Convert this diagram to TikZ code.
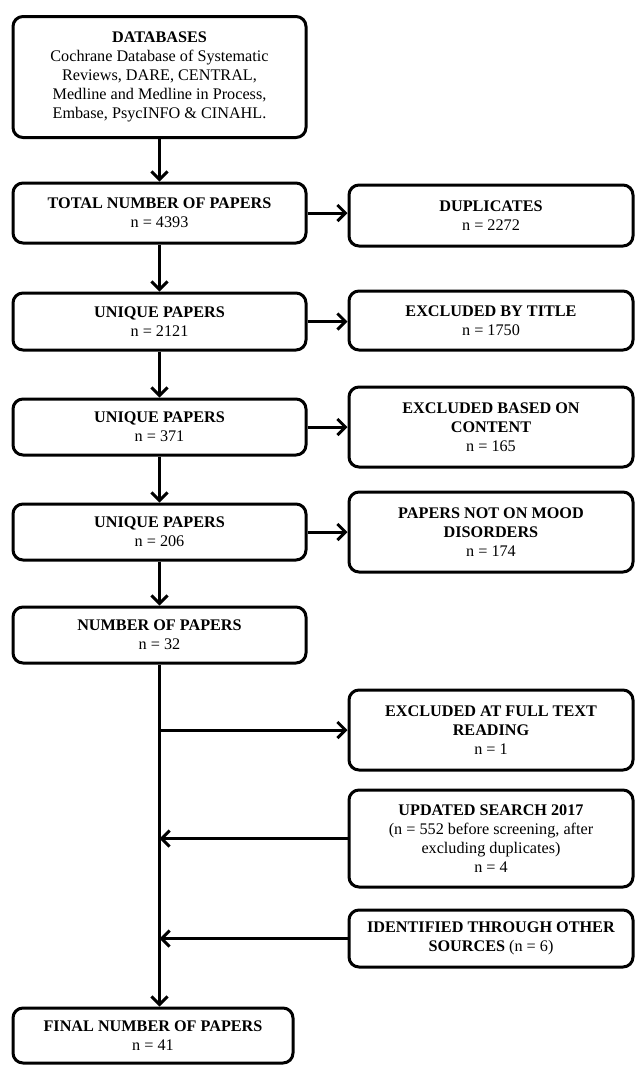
\documentclass[tikz,border=0pt]{standalone}
\usepackage{fontspec}
\setmainfont{Liberation Serif}
\usetikzlibrary{arrows.meta}

\begin{document}
\begin{tikzpicture}[x = 1pt, y = -1pt, line width = 3pt,
  every node/.style = {font = \fontsize{16.2}{19}\selectfont, align = center, inner sep = 0pt},
  lbox/.style = {draw, rounded corners = 10pt, minimum width = 293pt},
  rbox/.style = {draw, rounded corners = 10pt, minimum width = 284pt},
  arr/.style = {-{Straight Barb[length = 8pt, width = 16pt]}}]

  \useasboundingbox (0, 0) rectangle (635, 1066);

  \node (db) at (159.5, 77) [lbox, minimum height = 121pt] { \textbf{DATABASES}\\ Cochrane Database of Systematic\\ Reviews, DARE, CENTRAL,\\ Medline and Medline in Process,\\ Embase, PsycINFO \& CINAHL. };

  \node (total) at (159.5, 213) [lbox, minimum height = 60pt] { \textbf{TOTAL NUMBER OF PAPERS}\\ n = 4393 };
  \node (uniqA) at (159.5, 321.5) [lbox, minimum height = 57pt] { \textbf{UNIQUE PAPERS}\\ n = 2121 };
  \node (uniqB) at (159.5, 427) [lbox, minimum height = 56pt] { \textbf{UNIQUE PAPERS}\\ n = 371 };
  \node (uniqC) at (159.5, 532) [lbox, minimum height = 56pt] { \textbf{UNIQUE PAPERS}\\ n = 206 };
  \node (num) at (159.5, 635) [lbox, minimum height = 56pt] { \textbf{NUMBER OF PAPERS}\\ n = 32 };
  \node (final) at (153, 1035.5) [lbox, minimum width = 280pt, minimum height = 55pt] { \textbf{FINAL NUMBER OF PAPERS}\\ n = 41 };

  \node (dup) at (491, 215.5) [rbox, minimum height = 61pt] { \textbf{DUPLICATES}\\ n = 2272 };
  \node (title) at (491, 320.5) [rbox, minimum height = 59pt] { \textbf{EXCLUDED BY TITLE}\\ n = 1750 };
  \node (content) at (491, 427) [rbox, minimum height = 80pt] { \textbf{EXCLUDED BASED ON}\\ \textbf{CONTENT}\\ n = 165 };
  \node (mood) at (491, 532) [rbox, minimum height = 80pt] { \textbf{PAPERS NOT ON MOOD}\\ \textbf{DISORDERS}\\ n = 174 };
  \node (full) at (491, 730) [rbox, minimum height = 80pt] { \textbf{EXCLUDED AT FULL TEXT}\\ \textbf{READING}\\ n = 1 };
  \node (upd) at (491, 838.5) [rbox, minimum height = 97pt] { \textbf{UPDATED SEARCH 2017}\\ (n = 552 before screening, after\\ excluding duplicates)\\ n = 4 };
  \node (other) at (491, 938.5) [rbox, minimum height = 57pt] { \textbf{IDENTIFIED THROUGH OTHER}\\ \textbf{SOURCES} (n = 6) };

  % main column
  \draw[arr] (db) -- (total);
  \draw[arr] (total) -- (uniqA);
  \draw[arr] (uniqA) -- (uniqB);
  \draw[arr] (uniqB) -- (uniqC);
  \draw[arr] (uniqC) -- (num);
  \draw[arr] (num.south) -- (num.south |- final.north);

  % side boxes
  \draw[arr] (total) -- (total -| dup.west);
  \draw[arr] (uniqA) -- (uniqA -| title.west);
  \draw[arr] (uniqB) -- (uniqB -| content.west);
  \draw[arr] (uniqC) -- (uniqC -| mood.west);

  \coordinate (jfull) at (num.south |- full.west);
  \draw[arr] (jfull) -- (full.west);
  \draw[arr] (upd.west) -- (num.south |- upd.west);
  \draw[arr] (other.west) -- (num.south |- other.west);

\end{tikzpicture}
\end{document}
